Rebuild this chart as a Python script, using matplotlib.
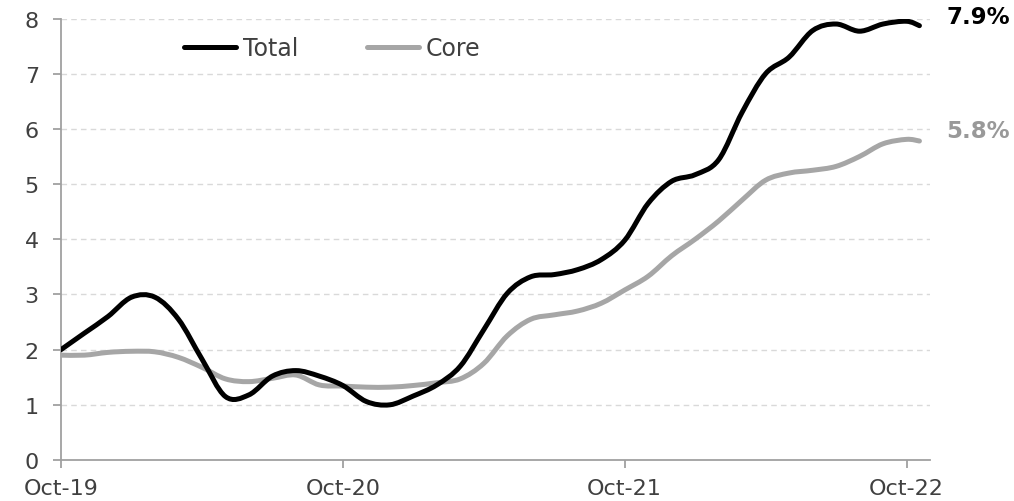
import matplotlib
matplotlib.use("Agg")
import matplotlib.pyplot as plt
from matplotlib.path import Path
from matplotlib.patches import PathPatch
from matplotlib.lines import Line2D

# ---- data (months since Oct-19) ----
month_pos = list(range(37)) + [36.55]
total = [2.00, 2.30, 2.60, 2.95, 2.95, 2.55, 1.83, 1.15, 1.18, 1.52,
         1.62, 1.52, 1.35, 1.06, 1.00, 1.16, 1.36, 1.70, 2.36, 3.02,
         3.32, 3.36, 3.45, 3.63, 3.98, 4.65, 5.05, 5.17, 5.44, 6.30,
         7.00, 7.30, 7.78, 7.90, 7.77, 7.90, 7.95, 7.87]
core = [1.90, 1.90, 1.95, 1.97, 1.96, 1.86, 1.68, 1.47, 1.42, 1.48,
        1.54, 1.36, 1.34, 1.32, 1.32, 1.35, 1.40, 1.47, 1.75, 2.25,
        2.55, 2.63, 2.70, 2.84, 3.08, 3.33, 3.70, 4.00, 4.33, 4.71,
        5.07, 5.20, 5.25, 5.32, 5.50, 5.73, 5.81, 5.78]
tick_pos = [0, 12, 24, 36]
tick_labels = ["Oct-19", "Oct-20", "Oct-21", "Oct-22"]
y_ticks = [0, 1, 2, 3, 4, 5, 6, 7, 8]
series_names = ["Total", "Core"]
end_labels = ["7.9%", "5.8%"]

TOTAL_C = "#000000"
CORE_C = "#a6a6a6"
TEXT_C = "#404040"
FONT = "DejaVu Sans"


def smooth_path(xs, ys):
    pts = list(zip(xs, ys))
    n = len(pts)
    verts = [pts[0]]
    codes = [Path.MOVETO]
    for i in range(n - 1):
        p0 = pts[i - 1] if i > 0 else pts[i]
        p1 = pts[i]
        p2 = pts[i + 1]
        p3 = pts[i + 2] if i + 2 < n else pts[i + 1]
        c1 = (p1[0] + (p2[0] - p0[0]) / 6.0, p1[1] + (p2[1] - p0[1]) / 6.0)
        c2 = (p2[0] - (p3[0] - p1[0]) / 6.0, p2[1] - (p3[1] - p1[1]) / 6.0)
        verts += [c1, c2, p2]
        codes += [Path.CURVE4] * 3
    return Path(verts, codes)


fig = plt.figure(figsize=(10.14, 5.02), dpi=100)
ax = fig.add_axes([61 / 1014, (502 - 461) / 502, (930 - 61) / 1014, (461 - 19.5) / 502])

ax.set_xlim(0, 37)
ax.set_ylim(0, 8)

for yv in y_ticks[1:]:
    ax.axhline(yv, color="#d9d9d9", lw=1.0, ls=(0, (4, 3)), zorder=1)

lw = 3.6
for ys, col in [(core, CORE_C), (total, TOTAL_C)]:
    patch = PathPatch(smooth_path(month_pos, ys), facecolor="none", edgecolor=col,
                      lw=lw, capstyle="round", joinstyle="round", zorder=3)
    ax.add_patch(patch)

for s in ["top", "right"]:
    ax.spines[s].set_visible(False)
for s in ["left", "bottom"]:
    ax.spines[s].set_color("#a0a0a0")
    ax.spines[s].set_linewidth(1.3)

ax.set_yticks(y_ticks)
ax.set_yticklabels([str(v) for v in y_ticks])
ax.set_xticks(tick_pos)
ax.set_xticklabels(tick_labels)
ax.tick_params(axis="both", colors="#a0a0a0", length=6, width=1.3, labelcolor=TEXT_C,
               labelsize=16)
ax.tick_params(axis="y", pad=10)
ax.tick_params(axis="x", pad=7)
for lab in ax.get_xticklabels() + ax.get_yticklabels():
    lab.set_fontfamily(FONT)

handles = [Line2D([], [], color=TOTAL_C, lw=lw, solid_capstyle="round"),
           Line2D([], [], color=CORE_C, lw=lw, solid_capstyle="round")]
leg = ax.legend(handles, series_names, loc="center", ncol=2, frameon=False,
                handlelength=2.2, handletextpad=0.3, columnspacing=2.9,
                borderpad=0, borderaxespad=0,
                prop={"family": FONT, "size": 17})
leg.set_bbox_to_anchor((332 / 1014, 1 - 49 / 502), transform=fig.transFigure)
for t in leg.get_texts():
    t.set_color(TEXT_C)

fig.text(946 / 1014, 1 - 17 / 502, end_labels[0], color=TOTAL_C, fontsize=16.5,
         fontweight="bold", family=FONT, ha="left", va="center")
fig.text(946 / 1014, 1 - 131 / 502, end_labels[1], color="#999999", fontsize=16.5,
         fontweight="bold", family=FONT, ha="left", va="center")

fig.savefig("out.png", dpi=100)
